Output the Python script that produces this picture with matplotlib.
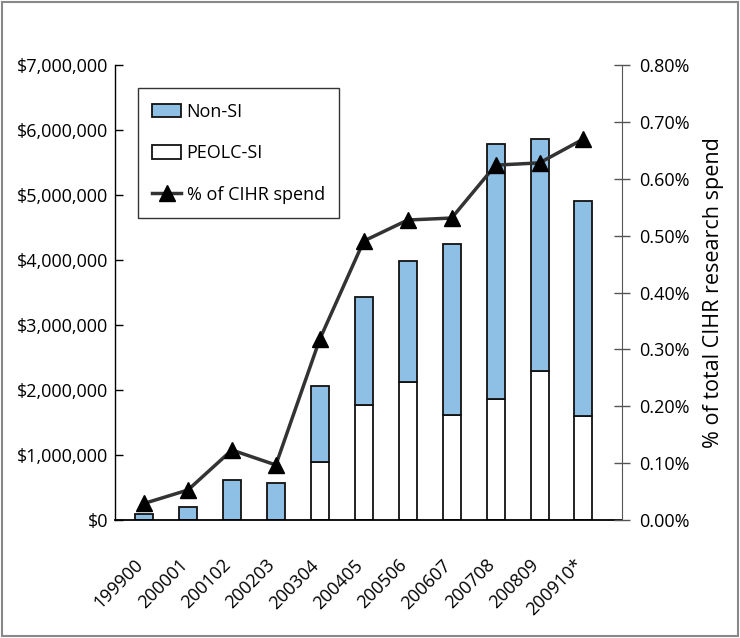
import matplotlib
matplotlib.use("Agg")
import matplotlib.pyplot as plt
from matplotlib.patches import Rectangle
from matplotlib.lines import Line2D
from matplotlib.ticker import FuncFormatter, MultipleLocator
import matplotlib.transforms as mtransforms
import numpy as np

plt.rcParams['font.family'] = ['Open Sans', 'DejaVu Sans']

years = ["199900", "200001", "200102", "200203", "200304", "200405",
         "200506", "200607", "200708", "200809", "200910*"]
total = [92000, 200000, 615000, 574000, 2060000, 3435000, 3990000,
         4250000, 5780000, 5870000, 4910000]
peolc_si = [0, 0, 0, 0, 887000, 1770000, 2120000, 1615000, 1860000,
            2300000, 1605000]
non_si = [t - p for t, p in zip(total, peolc_si)]
pct_cihr = [0.029, 0.0527, 0.123, 0.0967, 0.318, 0.4905, 0.5275, 0.531,
            0.624, 0.628, 0.670]

FS = 13
fig = plt.figure(figsize=(7.4, 6.38), dpi=100)
ax = fig.add_axes([0.1554, 0.185, 0.6851, 0.713])
x = np.arange(len(years))
w = 0.41
blue = '#8EC0E6'
ax.bar(x, peolc_si, w, color='white', edgecolor='#111111', linewidth=1.3, zorder=2)
ax.bar(x, non_si, w, bottom=peolc_si, color=blue, edgecolor='#111111', linewidth=1.3, zorder=2)
ax.set_xlim(-0.66, 10.876)
ax.set_ylim(0, 7000000)
ax.yaxis.set_major_locator(MultipleLocator(1000000))
ax.yaxis.set_major_formatter(FuncFormatter(lambda v, p: "${:,.0f}".format(v)))
ax.tick_params(axis='y', direction='in', length=6, width=1, labelsize=FS, pad=5)
ax.set_xticks(x)
ax.set_xticklabels(years, rotation=45, ha='right', rotation_mode='anchor', fontsize=FS)
ax.tick_params(axis='x', length=0, pad=26)
offset = mtransforms.ScaledTranslation(-7 / 72, 0, fig.dpi_scale_trans)
for lab in ax.get_xticklabels():
    lab.set_transform(lab.get_transform() + offset)
for s in ['top', 'right']:
    ax.spines[s].set_visible(False)
ax.spines['left'].set_linewidth(1)
ax.spines['bottom'].set_linewidth(1.3)

ax2 = ax.twinx()
ax2.plot(x, pct_cihr, color='#333333', lw=2.5, marker='^', markersize=11,
         markerfacecolor='black', markeredgecolor='black', zorder=3)
ax2.set_ylim(0, 0.8)
ax2.yaxis.set_major_locator(MultipleLocator(0.1))
ax2.yaxis.set_major_formatter(FuncFormatter(lambda v, p: "{:.2f}%".format(v)))
ax2.tick_params(axis='y', direction='inout', length=12, width=1, colors='#555555',
                labelcolor='black', labelsize=FS, pad=6)
for s in ['top', 'left', 'bottom']:
    ax2.spines[s].set_visible(False)
ax2.spines['right'].set_color('#555555')
ax2.set_ylabel("% of total CIHR research spend", fontsize=15.5, labelpad=10)

handles = [Rectangle((0, 0), 1, 1, facecolor=blue, edgecolor='#111111', lw=1.3),
           Rectangle((0, 0), 1, 1, facecolor='white', edgecolor='#111111', lw=1.3),
           Line2D([], [], color='#333333', lw=2.5, marker='^', markersize=11,
                  markerfacecolor='black', markeredgecolor='black')]
leg = ax.legend(handles, ["Non-SI", "PEOLC-SI", "% of CIHR spend"],
                loc='upper left', bbox_to_anchor=(0.045, 0.949), borderaxespad=0,
                fontsize=FS, frameon=True, fancybox=False, edgecolor='black',
                handlelength=1.6, handleheight=0.8, handletextpad=0.3,
                labelspacing=1.3, borderpad=0.8)
leg.get_frame().set_linewidth(1)
leg.set_zorder(10)

fig.patches.append(Rectangle((0.003, 0.003), 0.994, 0.994, transform=fig.transFigure,
                             fill=False, edgecolor='#888888', lw=1.5))
fig.savefig("out.png", dpi=100)
